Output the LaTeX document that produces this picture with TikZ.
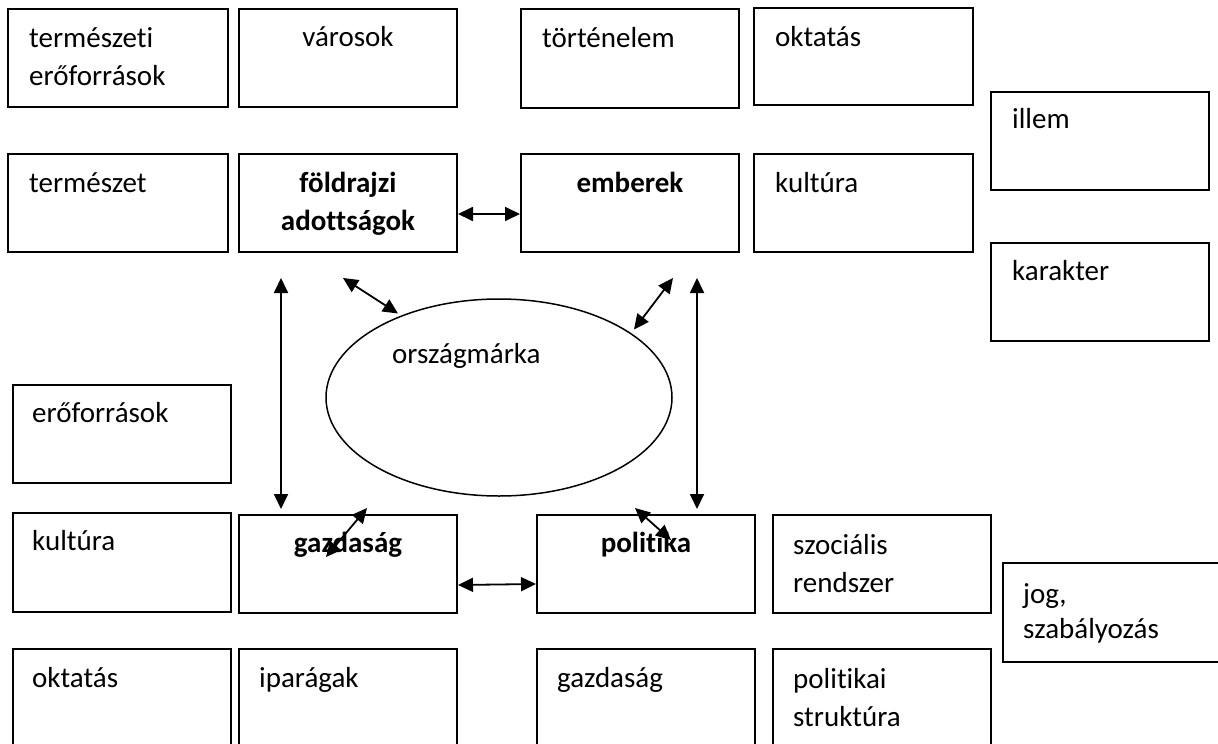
\documentclass[tikz,border=0pt]{standalone}
\usepackage{fontspec}
\setmainfont{Carlito}[Ligatures={NoCommon}]
\usetikzlibrary{arrows.meta,shapes.geometric}
\begin{document}
\begin{tikzpicture}[x=1pt,y=-1pt,
  box/.style={draw,line width=2pt,rectangle,inner sep=0pt,anchor=north west},
  txt/.style={inner sep=0pt,font=\fontsize{29}{38}\selectfont,align=left},
  btxt/.style={inner sep=0pt,font=\fontsize{29}{38}\selectfont\bfseries,align=center},
  arr/.style={line width=1.8pt,{Triangle[length=15pt,width=14pt]}-{Triangle[length=15pt,width=14pt]}}]
\clip (0,0) rectangle (1218,744);
\fill[white] (0,0) rectangle (1218,744);
\newcommand{\bx}[5]{\node[box,minimum width=#4-#2,minimum height=#5-#3] (#1) at (#2,#3) {};}
% row 1
\bx{termer}{7}{8}{227}{106}
\bx{varos}{238}{8}{456}{106}
\bx{tort}{520}{8}{738}{107}
\bx{oktA}{753}{7}{972}{104}
\bx{illem}{990}{91}{1208}{189}
\bx{kar}{990}{242}{1208}{340}
% row 2
\bx{term}{7}{153}{227}{251}
\bx{fold}{238}{153}{456}{251}
\bx{emb}{520}{153}{738}{251}
\bx{kultA}{753}{153}{972}{251}
% left
\bx{ero}{12}{384}{230}{482}
% row 4
\bx{kultB}{12}{512}{230}{611}
\bx{gaz}{238}{514}{456}{612}
\bx{pol}{536}{514}{754}{612}
\bx{szoc}{772}{514}{990}{612}
\bx{jog}{1002}{562}{1230}{661}
% row 5
\bx{oktB}{12}{648}{230}{760}
\bx{ipar}{238}{648}{456}{760}
\bx{gazB}{536}{648}{754}{760}
\bx{polstr}{772}{648}{990}{760}
% texts (base anchor = baseline of last line)
\node[txt,anchor=base west] at ([shift={(22,77)}]termer.north west) {természeti\\erőforrások};
\node[txt,anchor=base] at ([shift={(0,38)}]varos.north) {városok};
\node[txt,anchor=base west] at ([shift={(22,39)}]tort.north west) {történelem};
\node[txt,anchor=base west] at ([shift={(22,39)}]oktA.north west) {oktatás};
\node[txt,anchor=base west] at ([shift={(22,37)}]illem.north west) {illem};
\node[txt,anchor=base west] at ([shift={(22,38)}]kar.north west) {karakter};
\node[txt,anchor=base west] at ([shift={(22,39)}]term.north west) {természet};
\node[btxt,anchor=base] at ([shift={(0,77)}]fold.north) {földrajzi\\adottságok};
\node[btxt,anchor=base] at ([shift={(0,39)}]emb.north) {emberek};
\node[txt,anchor=base west] at ([shift={(22,39)}]kultA.north west) {kultúra};
\node[txt,anchor=base west] at ([shift={(20,38)}]ero.north west) {erőforrások};
\node[txt,anchor=base west] at ([shift={(20,38)}]kultB.north west) {kultúra};
\node[btxt,anchor=base] at ([shift={(0,38)}]gaz.north) {gazdaság};
\node[btxt,anchor=base] at ([shift={(0,38)}]pol.north) {politika};
\node[txt,anchor=base west] at ([shift={(21,78)}]szoc.north west) {szociális\\rendszer};
\node[txt,anchor=base west] at ([shift={(21,76)}]jog.north west) {jog,\\[-3pt]szabályozás};
\node[txt,anchor=base west] at ([shift={(20,39)}]oktB.north west) {oktatás};
\node[txt,anchor=base west] at ([shift={(21,39)}]ipar.north west) {iparágak};
\node[txt,anchor=base west] at ([shift={(21,39)}]gazB.north west) {gazdaság};
\node[txt,anchor=base west] at ([shift={(21,78)}]polstr.north west) {politikai\\struktúra};
% ellipse
\node[draw,line width=1.5pt,ellipse,minimum width=346pt,minimum height=197pt,inner sep=0pt] (ell) at (499,397.5) {};
\node[txt,anchor=base west] at ([shift={(-107,-34)}]ell.center) {országmárka};
% arrows
\draw[arr] ([yshift=-11pt]fold.east) -- ([yshift=-11pt]emb.west);
\draw[arr] ([yshift=-21pt]gaz.east) -- ([yshift=-20pt]pol.west);
\draw[arr] ([shift={(-67,25)}]fold.south) -- ([shift={(-67,-5)}]gaz.north);
\draw[arr] ([shift={(67,25)}]emb.south) -- ([shift={(51,-5)}]pol.north);
\draw[arr] ([shift={(-5,25)}]fold.south) -- ([shift={(-101,-84)}]ell.center);
\draw[arr] ([shift={(135,-68)}]ell.center) -- ([shift={(43,25)}]emb.south);
\draw[arr] ([shift={(-22,43)}]gaz.north) -- ([shift={(19,-6)}]gaz.north);
\draw[arr] ([shift={(-11,-6)}]pol.north) -- ([shift={(25,26)}]pol.north);
\end{tikzpicture}
\end{document}
